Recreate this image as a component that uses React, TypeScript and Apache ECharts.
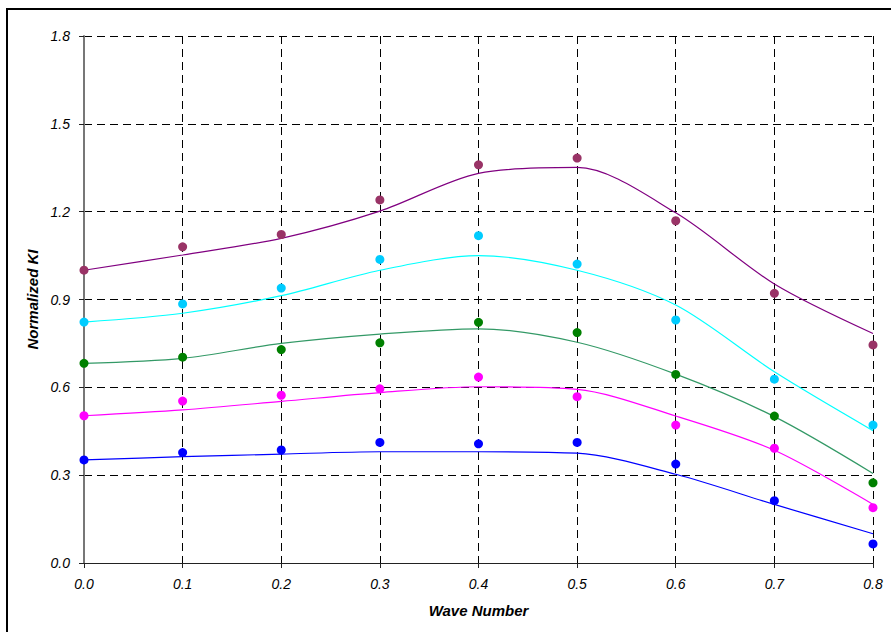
import React, { useEffect, useRef } from "react";
import * as echarts from "echarts";

const waveNumbers = [0, 0.1, 0.2, 0.3, 0.4, 0.5, 0.6, 0.7, 0.8];

const purpleDots = [1.0, 1.08, 1.122, 1.24, 1.36, 1.383, 1.169, 0.921, 0.745];
const purpleFit = [1.0, 1.052, 1.109, 1.202, 1.331, 1.351, 1.196, 0.953, 0.784];

const cyanDots = [0.823, 0.885, 0.939, 1.037, 1.118, 1.021, 0.83, 0.628, 0.471];
const cyanFit = [0.823, 0.853, 0.913, 1.0, 1.05, 1.0, 0.881, 0.653, 0.452];

const greenDots = [0.682, 0.703, 0.729, 0.752, 0.822, 0.787, 0.644, 0.502, 0.274];
const greenFit = [0.682, 0.699, 0.75, 0.782, 0.8, 0.754, 0.645, 0.5, 0.306];

const magentaDots = [0.503, 0.553, 0.573, 0.595, 0.635, 0.568, 0.471, 0.392, 0.189];
const magentaFit = [0.503, 0.523, 0.552, 0.582, 0.602, 0.593, 0.502, 0.385, 0.2];

const blueDots = [0.352, 0.377, 0.386, 0.412, 0.407, 0.412, 0.338, 0.213, 0.065];
const blueFit = [0.352, 0.363, 0.372, 0.38, 0.38, 0.375, 0.303, 0.2, 0.1];

const xTicks = ["0.0", "0.1", "0.2", "0.3", "0.4", "0.5", "0.6", "0.7", "0.8"];
const yTicks = ["0.0", "0.3", "0.6", "0.9", "1.2", "1.5", "1.8"];

const groups = [
  { dots: purpleDots, fit: purpleFit, dotColor: "#993366", lineColor: "#800080" },
  { dots: cyanDots, fit: cyanFit, dotColor: "#00CCFF", lineColor: "#00FFFF" },
  { dots: greenDots, fit: greenFit, dotColor: "#008000", lineColor: "#339966" },
  { dots: magentaDots, fit: magentaFit, dotColor: "#FF00FF", lineColor: "#FF00FF" },
  { dots: blueDots, fit: blueFit, dotColor: "#0000FF", lineColor: "#0000FF" },
];

const FONT = "'Liberation Sans', Arial, sans-serif";

export default function App() {
  const ref = useRef<HTMLDivElement>(null);

  useEffect(() => {
    document.body.style.overflow = "hidden";
    const chart = echarts.init(ref.current!, null, { renderer: "svg" });
    const series: any[] = [];
    groups.forEach((g) => {
      series.push({
        type: "line",
        data: waveNumbers.map((x, i) => [x, g.fit[i]]),
        smooth: 0.3,
        showSymbol: false,
        lineStyle: { color: g.lineColor, width: 1.2 },
        z: 3,
      });
      series.push({
        type: "scatter",
        data: waveNumbers.map((x, i) => [x, g.dots[i]]),
        symbol: "circle",
        symbolSize: 9,
        itemStyle: { color: g.dotColor, opacity: 1 },
        z: 4,
      });
    });

    chart.setOption({
      animation: false,
      backgroundColor: "#fff",
      grid: { left: 76, top: 26, right: 18, bottom: 69, containLabel: false },
      xAxis: {
        type: "value",
        min: 0,
        max: 0.8,
        interval: 0.1,
        name: "Wave Number",
        nameLocation: "middle",
        nameGap: 40,
        nameTextStyle: {
          fontFamily: FONT,
          fontSize: 15,
          fontWeight: "bold",
          fontStyle: "italic",
          color: "#000",
        },
        axisLine: { show: true, onZero: false, lineStyle: { color: "#222", width: 1.2 } },
        axisTick: { show: true, length: 5, lineStyle: { color: "#222" } },
        axisLabel: {
          margin: 14,
          fontFamily: FONT,
          fontSize: 14,
          fontStyle: "italic",
          color: "#000",
          formatter: (v: number) => xTicks[Math.round(v * 10)] ?? v.toFixed(1),
        },
        splitLine: {
          show: true,
          lineStyle: { color: "#000", type: [8, 5], width: 1 },
        },
      },
      yAxis: {
        type: "value",
        min: 0,
        max: 1.8,
        interval: 0.3,
        name: "Normalized KI",
        nameLocation: "middle",
        nameGap: 44,
        nameRotate: 90,
        nameTextStyle: {
          fontFamily: FONT,
          fontSize: 15,
          fontWeight: "bold",
          fontStyle: "italic",
          color: "#000",
        },
        axisLine: { show: true, onZero: false, lineStyle: { color: "#777", width: 2 } },
        axisTick: { show: true, length: 5, lineStyle: { color: "#222" } },
        axisLabel: {
          margin: 14,
          fontFamily: FONT,
          fontSize: 14,
          fontStyle: "italic",
          color: "#000",
          formatter: (v: number) => yTicks[Math.round(v / 0.3)] ?? v.toFixed(1),
        },
        splitLine: {
          show: true,
          lineStyle: { color: "#000", type: [8, 5], width: 1 },
        },
      },
      series,
    });
    return () => chart.dispose();
  }, []);

  return (
    <div
      style={{
        position: "absolute",
        left: 6,
        top: 8,
        width: 885,
        height: 624,
        borderLeft: "2px solid #000",
        borderTop: "2px solid #000",
        boxSizing: "border-box",
        background: "#fff",
      }}
    >
      <div ref={ref} style={{ width: 883, height: 622 }} />
    </div>
  );
}
